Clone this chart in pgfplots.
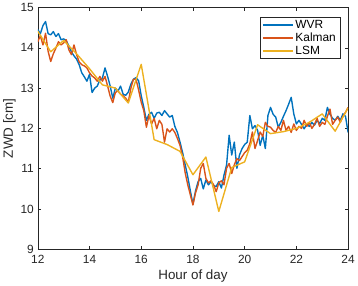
\documentclass[border=0pt]{standalone}
\usepackage{pgfplots}
\pgfplotsset{compat=1.18}
\usepackage{fontspec}
\setmainfont{Liberation Sans}
\definecolor{mblue}{rgb}{0,0.447,0.741}
\definecolor{morange}{rgb}{0.850,0.325,0.098}
\definecolor{myellow}{rgb}{0.929,0.694,0.125}
\definecolor{axgray}{rgb}{0.15,0.15,0.15}
\begin{document}
\begin{tikzpicture}
\begin{axis}[
  scale only axis,
  width=313bp, height=244bp,
  xmin=12, xmax=24, ymin=9, ymax=15,
  xtick={12,14,...,24}, ytick={9,10,...,15},
  /pgf/number format/assume math mode=true,
  tick label style={font=\fontsize{12bp}{14bp}\selectfont, color=axgray},
  xticklabel style={yshift=-2.5bp},
  yticklabel style={xshift=-0.5bp},
  label style={font=\fontsize{13.5bp}{15bp}\selectfont, color=axgray},
  xlabel={Hour of day}, ylabel={ZWD [cm]},
  xlabel style={yshift=1bp},
  ylabel style={yshift=-2bp},
  axis line style={color=axgray, line width=0.5bp},
  major tick style={color=axgray, line width=0.5bp},
  major tick length=3.5bp,
  tick align=inside,
  legend style={at={(0.974,0.961)}, anchor=north east, font=\fontsize{12bp}{14bp}\selectfont,
    draw=axgray, line width=0.5bp, inner xsep=2bp, inner ysep=1bp, row sep=-1bp},
  legend cell align=left,
  legend image code/.code={\draw[#1, line width=1.8pt] (0bp,0bp) -- (30bp,0bp);},
  every axis plot/.append style={line width=1.4pt, line join=round},
]
\addplot[mblue] table {
12.0 14.45
12.1 14.35
12.2 14.55
12.3 14.65
12.4 14.35
12.5 14.32
12.6 14.40
12.7 14.28
12.8 14.35
12.9 14.20
13.0 14.22
13.1 14.18
13.2 14.05
13.3 13.90
13.4 13.80
13.5 13.72
13.6 13.58
13.7 13.38
13.8 13.28
13.9 13.17
14.0 13.34
14.1 12.89
14.2 13.00
14.3 13.05
14.4 13.20
14.5 13.25
14.6 13.50
14.7 13.29
14.8 13.05
14.9 12.75
15.0 13.00
15.1 12.92
15.2 13.05
15.3 12.85
15.4 12.82
15.5 12.90
15.6 13.10
15.7 13.22
15.8 13.26
15.9 13.18
16.0 12.81
16.1 12.52
16.2 12.20
16.3 12.35
16.4 12.40
16.5 12.25
16.6 12.38
16.7 12.40
16.8 12.32
16.9 12.44
17.0 12.36
17.1 12.28
17.2 12.32
17.3 12.05
17.4 11.90
17.5 11.66
17.6 11.40
17.7 11.10
17.8 10.80
17.9 10.45
18.0 10.12
18.1 10.45
18.2 10.68
18.3 10.76
18.4 10.50
18.5 10.72
18.6 10.60
18.7 10.68
18.8 10.58
18.9 10.56
19.0 10.68
19.1 10.52
19.2 10.84
19.3 11.09
19.4 11.83
19.5 11.34
19.6 11.66
19.7 11.01
19.8 11.34
19.9 11.50
20.0 11.60
20.1 11.66
20.2 12.32
20.3 11.99
20.4 12.07
20.5 11.95
20.6 11.58
20.7 11.83
20.8 11.50
20.9 12.32
21.0 12.52
21.1 12.35
21.2 12.28
21.3 12.03
21.4 12.15
21.5 12.30
21.6 12.44
21.7 12.60
21.8 12.77
21.9 12.36
22.0 12.11
22.1 12.20
22.2 12.10
22.3 11.99
22.4 12.10
22.5 12.05
22.6 12.15
22.7 12.08
22.8 12.20
22.9 12.12
23.0 12.25
23.1 12.20
23.2 12.52
23.3 12.35
23.4 12.25
23.5 12.20
23.6 12.30
23.7 12.20
23.8 12.36
23.9 12.30
24.0 11.90
};
\addlegendentry{WVR}
\addplot[morange] table {
12.0 14.15
12.1 14.30
12.2 14.07
12.3 14.36
12.4 13.91
12.5 13.66
12.6 13.85
12.7 13.99
12.8 14.15
12.9 14.07
13.0 14.12
13.1 14.20
13.2 13.95
13.3 13.83
13.4 14.07
13.5 13.83
13.6 13.65
13.7 13.58
13.8 13.55
13.9 13.50
14.0 13.38
14.1 13.30
14.2 13.25
14.3 13.17
14.4 13.29
14.5 13.17
14.6 13.29
14.7 13.05
14.8 12.80
14.9 12.64
15.0 12.89
15.1 12.93
15.2 12.85
15.3 12.81
15.4 12.75
15.5 12.65
15.6 13.00
15.7 13.22
15.8 13.22
15.9 12.95
16.0 12.65
16.1 12.44
16.2 12.03
16.3 12.32
16.4 12.11
16.5 12.25
16.6 11.99
16.7 12.20
16.8 12.10
16.9 11.66
17.0 11.99
17.1 11.91
17.2 11.99
17.3 11.90
17.4 11.75
17.5 11.58
17.6 11.30
17.7 10.90
17.8 10.60
17.9 10.35
18.0 10.10
18.1 10.40
18.2 10.60
18.3 11.01
18.4 11.13
18.5 10.76
18.6 10.65
18.7 10.70
18.8 10.60
18.9 10.43
19.0 10.65
19.1 10.70
19.2 10.60
19.3 11.01
19.4 11.13
19.5 10.88
19.6 11.10
19.7 11.25
19.8 11.20
19.9 11.30
20.0 11.40
20.1 11.46
20.2 11.62
20.3 11.91
20.4 11.50
20.5 11.70
20.6 11.91
20.7 11.80
20.8 12.15
20.9 12.05
21.0 12.03
21.1 11.95
21.2 11.90
21.3 12.05
21.4 11.95
21.5 12.20
21.6 11.95
21.7 12.05
21.8 11.90
21.9 12.11
22.0 11.95
22.1 12.05
22.2 12.00
22.3 12.20
22.4 12.05
22.5 12.15
22.6 12.00
22.7 12.10
22.8 12.25
22.9 12.05
23.0 12.15
23.1 12.10
23.2 12.30
23.3 12.48
23.4 12.10
23.5 12.20
23.6 12.28
23.7 12.15
23.8 12.30
23.9 12.40
24.0 12.52
};
\addlegendentry{Kalman}
\addplot[myellow] table {
12.0 14.41
12.5 13.90
13.0 14.18
13.5 13.85
14.0 13.48
14.5 13.08
15.0 13.00
15.5 12.63
16.0 13.59
16.5 11.72
17.0 11.60
17.5 11.43
18.0 10.85
18.5 11.29
19.0 9.94
19.5 11.03
20.0 11.17
20.5 12.09
21.0 11.87
21.5 11.92
22.0 12.00
22.5 12.15
23.0 12.36
23.5 11.93
24.0 12.51
};
\addlegendentry{LSM}
\end{axis}
\end{tikzpicture}
\end{document}
